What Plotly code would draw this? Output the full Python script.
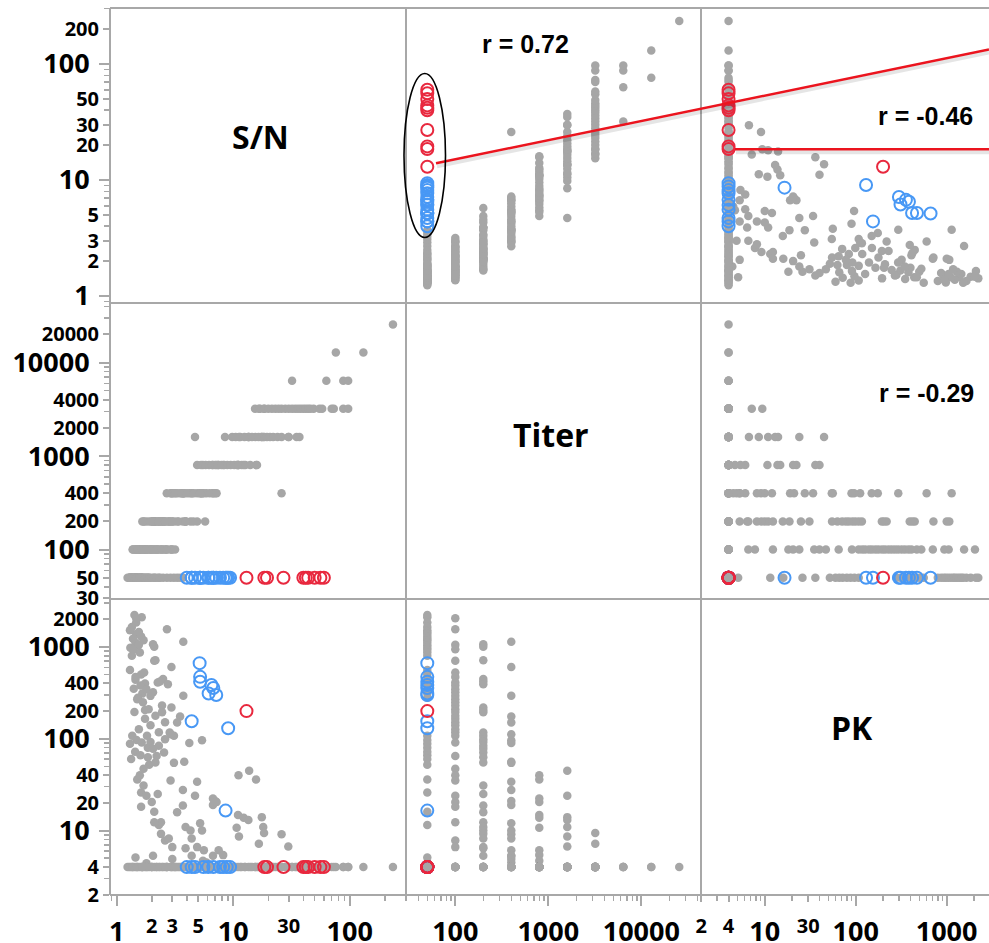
import math
import plotly.graph_objects as go

W, H = 989, 943

# ---------------- data ----------------
titer_levels = [50, 100, 200, 400, 800, 1600, 3200, 6400, 12800, 25600]

sn_t50 = [1.42, 1.64, 1.47, 1.35, 1.30, 1.55, 1.47, 1.62, 1.38, 1.70, 1.45, 1.52, 1.31, 1.40, 1.58, 1.35,
          1.30, 1.62, 1.45, 1.75, 1.40, 1.66, 1.52, 1.36, 1.48, 1.30, 1.85, 1.44, 1.60, 1.33, 1.90, 1.50,
          1.62, 2.10, 2.30, 1.45, 1.80,
          1.24, 1.28, 1.32, 1.36, 1.41, 1.46, 1.50, 1.56, 1.62, 1.68, 1.75, 1.83, 1.90, 2.00, 2.10, 2.20,
          2.35, 2.50, 2.70, 2.90, 3.10, 3.30, 3.50, 3.70]
pk_t50 = [2230, 2100, 1840, 1650, 1520, 1450, 1380, 1300, 1230, 1180, 1110, 1040, 980, 930, 870, 800,
          560, 500, 440, 400, 350, 310, 280, 108, 97, 88, 80, 72, 66, 60, 52, 36,
          26, 16, 11.5, 5.1, 4.4,
          4, 4, 4, 4, 4, 4, 4, 4, 4, 4, 4, 4, 4, 4, 4, 4,
          4, 4, 4, 4, 4, 4, 4, 4]

sn_t100 = [1.47, 2.70, 1.55, 1.38, 2.10, 1.72, 1.45, 2.25, 1.60, 1.80, 2.05, 1.95, 1.50, 1.68, 2.45, 1.88,
           1.42, 2.15, 1.75, 2.60, 1.95, 1.55, 2.30, 1.82, 1.64, 2.20, 1.70, 1.58, 2.90, 1.80, 2.00, 1.62,
           2.40, 2.60, 3.00,
           1.37, 1.50, 1.65, 1.80, 2.00, 2.20, 2.45, 2.70, 2.95, 3.17]
pk_t100 = [2050, 1556, 1053, 944, 705, 527, 470, 410, 380, 347, 320, 293, 270, 249, 230, 210,
           195, 178, 165, 151, 140, 127, 118, 108, 91, 65, 47, 40, 35, 24, 20.5, 18.2,
           12.3, 7.8, 6.6,
           4, 4, 4, 4, 4, 4, 4, 4, 4, 4]

sn_t200 = [2.05, 2.10, 2.15, 2.50, 2.35, 2.75, 2.95, 1.75, 2.45, 2.85, 3.10, 2.60, 1.95, 2.30, 2.05, 2.55,
           1.85, 2.15, 1.70, 2.25, 3.70, 3.30, 2.10, 3.90, 4.30, 2.40, 2.80, 3.90, 4.90, 2.05,
           1.66, 2.00, 2.30, 2.60, 3.00, 3.40, 3.90, 4.55, 5.74]
pk_t200 = [1070, 1003, 716, 446, 420, 393, 219, 205, 194, 117, 108, 99, 92, 84, 78, 71,
           63, 55, 31, 25, 18.7, 15.8, 12.3, 10.9, 10.0, 9.2, 8.2, 6.4, 6.6, 5.3,
           4, 4, 4, 4, 4, 4, 4, 4, 4]

sn_t400 = [3.73, 2.95, 3.73, 3.50, 3.30, 2.90, 5.40, 4.20, 3.80, 3.10, 4.90, 3.70, 7.00, 6.70, 5.20, 5.40,
           26.0, 4.40, 5.60, 4.40, 6.70, 3.00, 5.90,
           2.69, 3.20, 3.60, 4.00, 4.60, 5.20, 6.30, 7.20]
pk_t400 = [1136, 603, 294, 175, 150, 112, 96, 90, 56, 54.6, 34, 27.6, 21, 19, 12, 10,
           9.1, 8.2, 6.1, 5.3, 5.3, 4.9, 4.5,
           4, 4, 4, 4, 4, 4, 4, 4]

sn_t800 = [11.1, 15.7, 6.7, 7.2, 11.0, 12.3, 10.7, 7.5, 8.2, 5.5,
           4.9, 5.3, 5.8, 6.2, 6.6, 7.0, 7.4, 7.9, 8.4, 8.9, 9.5, 10.2, 11.0, 11.8, 12.7, 14.0, 16.0]
pk_t800 = [40, 36, 22.3, 20.5, 14.8, 13.8, 10.7, 6.1, 5.4, 4.7,
           4, 4, 4, 4, 4, 4, 4, 4, 4, 4, 4, 4, 4, 4, 4, 4, 4]

sn_t1600 = [13.7, 4.7, 17.6, 13.5, 18.1, 11.2, 29.7,
            8.5, 9.8, 10.5, 11.5, 12.5, 13.5, 14.5, 15.5, 16.5, 17.5, 18.5, 19.5, 20.7, 22.0, 24.0, 26.0,
            30.0, 35.0, 37.0]
pk_t1600 = [44.9, 24, 14, 13, 10.9, 8.6, 6.7,
            4, 4, 4, 4, 4, 4, 4, 4, 4, 4, 4, 4, 4, 4, 4, 4,
            4, 4, 4]

sn_t3200 = [16.6, 18.4,
            15.4, 17.0, 18.5, 20.0, 21.5, 23.0, 24.5, 26.0, 28.0, 30.0, 32.0, 34.0, 36.0, 38.0, 40.0, 42.0,
            44.0, 46.0, 49.0, 55.0, 58.0, 70.0, 73.0, 88.0, 97.0]
pk_t3200 = [7.2, 9.4,
            4, 4, 4, 4, 4, 4, 4, 4, 4, 4, 4, 4, 4, 4, 4, 4,
            4, 4, 4, 4, 4, 4, 4, 4, 4]

sn_t6400 = [32.0, 63.0, 88.0, 97.0]
pk_t6400 = [4, 4, 4, 4]
sn_t12800 = [76.0, 131.0]
pk_t12800 = [4, 4]
sn_t25600 = [235.0]
pk_t25600 = [4]

# highlighted samples (all at Titer = 50)
sn_red = [13.0, 18.5, 19.5, 27.0, 40.0, 42.0, 44.0, 50.0, 56.0, 60.0]
pk_red = [200, 4, 4, 4, 4, 4, 4, 4, 4, 4]
sn_blue = [5.15, 5.2, 5.2, 6.5, 6.75, 6.15, 7.15, 4.4, 9.05, 8.6,
           3.99, 4.4, 4.7, 5.54, 6.1, 6.75, 7.7, 8.2, 8.8, 9.4]
pk_blue = [666, 472, 417, 385, 357, 311, 299, 155, 130, 16.5,
           4, 4, 4, 4, 4, 4, 4, 4, 4, 4]
highlight_titer = 50

corr_labels = ["r = 0.72", "r = -0.46", "r = -0.29"]
var_names = ["S/N", "Titer", "PK"]

# ---------------- assemble records ----------------
sn_groups = [sn_t50, sn_t100, sn_t200, sn_t400, sn_t800, sn_t1600, sn_t3200, sn_t6400, sn_t12800, sn_t25600]
pk_groups = [pk_t50, pk_t100, pk_t200, pk_t400, pk_t800, pk_t1600, pk_t3200, pk_t6400, pk_t12800, pk_t25600]
sn_gray, titer_gray, pk_gray = [], [], []
for t, s_list, p_list in zip(titer_levels, sn_groups, pk_groups):
    n = min(len(s_list), len(p_list))
    sn_gray += s_list[:n]
    pk_gray += p_list[:n]
    titer_gray += [t] * n

gray_vars = [sn_gray, titer_gray, pk_gray]
red_vars = [sn_red, [highlight_titer] * len(sn_red), pk_red]
blue_vars = [sn_blue, [highlight_titer] * len(sn_blue), pk_blue]

# ---------------- geometry ----------------
def fx(px):
    return px / W


def fy(py):
    return 1 - py / H


col_px = [(110, 406), (406, 701), (701, 989)]
row_px = [(8, 303), (303, 599), (599, 895)]
x_ranges = [[-0.0575, 2.483], [1.47, 4.642], [0.299, 3.466]]
y_ranges = [[-0.06, 2.483], [1.471, 4.637], [0.298, 3.522]]

x_big = [[1, 10, 100], [100, 1000, 10000], [10, 100, 1000]]
x_small = [[2, 3, 5, 30], [], [2, 4, 30]]
y_big = [[1, 10, 100], [100, 1000, 10000], [10, 100, 1000]]
y_small = [[2, 3, 5, 20, 30, 50, 200], [30, 50, 200, 400, 2000, 4000, 20000], [2, 4, 20, 40, 200, 400, 2000]]

GRID = "rgb(168,168,168)"
FONT = "Open Sans"
BIG, SMALL = 27, 20


def minor_vals(rng):
    vals = []
    for k in range(-1, 6):
        for m in range(1, 10):
            v = m * 10 ** k
            if rng[0] <= math.log10(v) <= rng[1]:
                vals.append(v)
    return vals


fig = go.Figure()

names_x = ["x", "x2", "x3"]
names_y = ["y", "y2", "y3"]

for r in range(3):
    for c in range(3):
        if r == c:
            continue
        fig.add_trace(go.Scatter(
            x=gray_vars[c], y=gray_vars[r], mode="markers",
            xaxis=names_x[c], yaxis=names_y[r],
            marker=dict(color="rgb(166,166,166)", size=8.5, line=dict(width=0)),
            showlegend=False, hoverinfo="skip"))
        fig.add_trace(go.Scatter(
            x=blue_vars[c], y=blue_vars[r], mode="markers",
            xaxis=names_x[c], yaxis=names_y[r],
            marker=dict(symbol="circle-open", color="rgb(72,152,245)", size=12, line=dict(width=2)),
            showlegend=False, hoverinfo="skip"))
        fig.add_trace(go.Scatter(
            x=red_vars[c], y=red_vars[r], mode="markers",
            xaxis=names_x[c], yaxis=names_y[r],
            marker=dict(symbol="circle-open", color="rgb(232,40,62)", size=12, line=dict(width=2)),
            showlegend=False, hoverinfo="skip"))

layout = dict(
    width=W, height=H, autosize=False,
    margin=dict(l=0, r=0, t=0, b=0, pad=0, autoexpand=False),
    paper_bgcolor="white", plot_bgcolor="rgba(0,0,0,0)",
    showlegend=False,
)

for c in range(3):
    dom = [fx(col_px[c][0]), fx(col_px[c][1])]
    base = dict(type="log", range=x_ranges[c], domain=dom, anchor="y3", automargin=False,
                showgrid=False, zeroline=False, showline=False, fixedrange=True)
    key = "xaxis" if c == 0 else f"xaxis{c + 1}"
    layout[key] = dict(base, tickmode="array", tickvals=x_big[c], ticktext=[str(v) for v in x_big[c]],
                       ticks="outside", ticklen=10, tickwidth=2, tickcolor=GRID,
                       ticklabelstandoff=3,
                       tickfont=dict(family=FONT, size=BIG, color="black", weight="bold"),
                       minor=dict(ticks="outside", ticklen=5, tickwidth=1.5, tickcolor=GRID,
                                  tickmode="array", tickvals=minor_vals(x_ranges[c]), showgrid=False))
    if x_small[c]:
        ov = f"x{c + 4}"
        layout[f"xaxis{c + 4}"] = dict(base, overlaying=names_x[c], tickmode="array", tickvals=x_small[c],
                                       ticktext=[str(v) for v in x_small[c]],
                                       ticks="outside", ticklen=6, tickwidth=2, tickcolor=GRID,
                                       ticklabelstandoff=7,
                                       tickfont=dict(family=FONT, size=SMALL, color="black", weight="bold"))
        # invisible carrier so the overlay axis is drawn
        fig.add_trace(go.Scatter(x=[x_small[c][0]], y=[4], xaxis=ov, yaxis="y3", mode="markers",
                                 marker=dict(opacity=0), showlegend=False, hoverinfo="skip"))

for r in range(3):
    dom = [fy(row_px[r][1]), fy(row_px[r][0])]
    base = dict(type="log", range=y_ranges[r], domain=dom, anchor="x", automargin=False,
                showgrid=False, zeroline=False, showline=False, fixedrange=True)
    key = "yaxis" if r == 0 else f"yaxis{r + 1}"
    layout[key] = dict(base, tickmode="array", tickvals=y_big[r], ticktext=[str(v) for v in y_big[r]],
                       ticks="outside", ticklen=10, tickwidth=2, tickcolor=GRID,
                       ticklabelstandoff=4,
                       tickfont=dict(family=FONT, size=BIG, color="black", weight="bold"),
                       minor=dict(ticks="outside", ticklen=5, tickwidth=1.5, tickcolor=GRID,
                                  tickmode="array", tickvals=minor_vals(y_ranges[r]), showgrid=False))
    ov = f"y{r + 4}"
    layout[f"yaxis{r + 4}"] = dict(base, overlaying=names_y[r], tickmode="array", tickvals=y_small[r],
                                   ticktext=[str(v) for v in y_small[r]],
                                   ticks="outside", ticklen=6, tickwidth=2, tickcolor=GRID,
                                   ticklabelstandoff=0,
                                   tickfont=dict(family=FONT, size=SMALL, color="black", weight="bold"))
    fig.add_trace(go.Scatter(x=[2], y=[y_small[r][0]], xaxis="x", yaxis=ov, mode="markers",
                             marker=dict(opacity=0), showlegend=False, hoverinfo="skip"))

shapes = []
# panel frame
for py in (8, 303, 599, 895):
    shapes.append(dict(type="line", xref="paper", yref="paper", x0=fx(110), x1=1.0, y0=fy(py), y1=fy(py),
                       line=dict(color=GRID, width=2), layer="above"))
for px in (110, 406, 701):
    shapes.append(dict(type="line", xref="paper", yref="paper", x0=fx(px), x1=fx(px), y0=fy(8), y1=fy(895),
                       line=dict(color=GRID, width=2), layer="above"))

# callout lines (with soft shadow)
callouts = [((436, 163.3), (989, 49.5)), ((735, 149.3), (989, 149.3))]
for (x0, y0), (x1, y1) in callouts:
    shapes.append(dict(type="line", xref="paper", yref="paper", x0=fx(x0 + 1), y0=fy(y0 + 3), x1=fx(x1), y1=fy(y1 + 3),
                       line=dict(color="rgba(0,0,0,0.10)", width=4), layer="above"))
for (x0, y0), (x1, y1) in callouts:
    shapes.append(dict(type="line", xref="paper", yref="paper", x0=fx(x0), y0=fy(y0), x1=fx(x1), y1=fy(y1),
                       line=dict(color="rgb(235,20,30)", width=2.5), layer="above"))
# ellipse around highlighted titer-50 column
shapes.append(dict(type="circle", xref="paper", yref="paper", x0=fx(404), x1=fx(445.5), y0=fy(237.5), y1=fy(73.5),
                   line=dict(color="black", width=1.6), layer="above"))
layout["shapes"] = shapes

annotations = []
diag_pos = [(260, 137), (551, 434), (852, 727)]
for name, (px, py) in zip(var_names, diag_pos):
    annotations.append(dict(text=name, xref="paper", yref="paper", x=fx(px), y=fy(py), showarrow=False,
                            xanchor="center", yanchor="middle",
                            font=dict(family=FONT, size=32, color="black", weight="bold")))
corr_pos = [(525, 44), (925, 116), (926, 393)]
for txt, (px, py) in zip(corr_labels, corr_pos):
    annotations.append(dict(text=txt, xref="paper", yref="paper", x=fx(px), y=fy(py), showarrow=False,
                            xanchor="center", yanchor="middle",
                            font=dict(family="Liberation Sans", size=25, color="black", weight="bold")))
layout["annotations"] = annotations

fig.update_layout(**layout)
fig.write_html("out.html", config={"displayModeBar": False, "staticPlot": True})
